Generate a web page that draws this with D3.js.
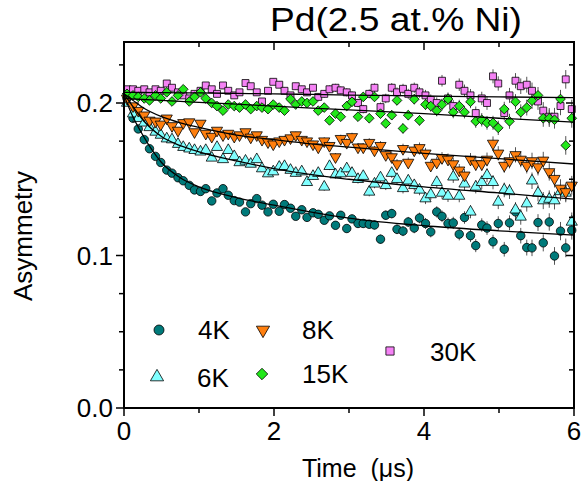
<!DOCTYPE html>
<html><head><meta charset="utf-8">
<script src="https://cdn.jsdelivr.net/npm/d3@7"></script>
<style>body{margin:0;background:#fff}svg{display:block;font-family:"Liberation Sans",Arial,sans-serif}</style>
</head><body><svg id="c" width="582" height="481"></svg>
<script>
const times = [0.04,0.12,0.19,0.27,0.34,0.42,0.49,0.57,0.64,0.72,0.79,0.87,0.94,1.02,1.09,1.17,1.24,1.32,1.39,1.47,
1.54,1.62,1.69,1.77,1.84,1.92,1.99,2.07,2.14,2.22,2.29,2.37,2.44,2.52,2.59,2.67,2.74,2.82,2.89,2.97,
3.04,3.12,3.19,3.27,3.34,3.42,3.49,3.57,3.64,3.72,3.79,3.87,3.94,4.02,4.09,4.17,4.24,4.32,4.39,4.47,
4.54,4.62,4.69,4.77,4.84,4.92,4.99,5.07,5.14,5.22,5.29,5.37,5.44,5.52,5.59,5.67,5.74,5.82,5.89,5.97];
const errs = [.0012,.0012,.0013,.0013,.0013,.0014,.0014,.0014,.0014,.0015,.0015,.0015,.0015,.0016,.0016,.0016,
.0017,.0017,.0018,.0018,.0018,.0019,.0019,.0019,.0020,.0020,.0021,.0022,.0022,.0022,.0022,.0023,
.0023,.0024,.0024,.0025,.0025,.0026,.0026,.0027,.0027,.0028,.0028,.0029,.0029,.0030,.0031,.0031,
.0032,.0033,.0033,.0034,.0035,.0036,.0036,.0037,.0038,.0039,.0040,.0041,.0041,.0042,.0043,.0044,
.0045,.0046,.0047,.0048,.0049,.0050,.0051,.0052,.0054,.0055,.0056,.0057,.0058,.0060,.0061,.0062];
const a4K = [0.203,0.190,0.183,0.176,0.170,0.165,0.161,0.156,0.154,0.151,0.149,0.146,0.143,0.142,0.1438,0.1358,
0.141,0.1438,0.1395,0.136,0.135,0.1286,0.134,0.1373,0.133,0.1286,0.1336,0.129,0.1334,0.131,0.1257,0.130,
0.125,0.128,0.127,0.1231,0.126,0.1198,0.1264,0.1177,0.124,0.121,0.121,0.1205,0.120,0.1107,0.1264,0.1275,
0.1172,0.116,0.122,0.118,0.1246,0.121,0.1155,0.1286,0.1257,0.121,0.1214,0.114,0.1249,0.113,0.1065,0.120,
0.118,0.109,0.121,0.1041,0.1214,0.1286,0.113,0.1052,0.105,0.1216,0.1083,0.122,0.0997,0.116,0.105,0.1166];
const a6K = [0.200,0.193,0.190,0.187,0.184,0.181,0.179,0.1766,0.176,0.173,0.171,0.170,0.169,0.168,0.169,0.164,
0.171,0.163,0.169,0.165,0.161,0.162,0.160,0.163,0.157,0.1537,0.155,0.158,0.1585,0.156,0.154,0.155,
0.148,0.152,0.154,0.145,0.1585,0.153,0.1537,0.157,0.154,0.150,0.152,0.1417,0.147,0.151,0.146,0.154,
0.150,0.144,0.149,0.146,0.143,0.1373,0.140,0.148,0.141,0.139,0.1516,0.139,0.147,0.1286,0.145,0.148,
0.1526,0.148,0.1351,0.143,0.142,0.130,0.1253,0.134,0.149,0.141,0.136,0.137,0.136,0.142,0.141,0.122];
const a8K = [0.203,0.198,0.195,0.192,0.1886,0.188,0.186,0.190,0.185,0.182,0.187,0.1875,0.181,0.1866,0.180,0.178,
0.182,0.179,0.180,0.178,0.179,0.181,0.1775,0.179,0.176,0.1744,0.173,0.175,0.176,0.177,0.179,0.176,
0.175,0.173,0.171,0.175,0.172,0.1646,0.1766,0.174,0.1778,0.171,0.171,0.174,0.169,0.172,0.166,0.1646,
0.160,0.170,0.161,0.169,0.1706,0.167,0.159,0.161,0.164,0.163,0.160,0.1559,0.1526,0.163,0.160,0.160,
0.163,0.1735,0.167,0.159,0.162,0.166,0.163,0.159,0.162,0.158,0.1624,0.1548,0.1504,0.144,0.1417,0.146];
const a15K = [0.206,0.205,0.204,0.203,0.2017,0.205,0.203,0.207,0.201,0.205,0.209,0.201,0.204,0.207,0.203,0.200,
0.198,0.195,0.199,0.198,0.197,0.199,0.196,0.198,0.197,0.196,0.199,0.197,0.195,0.2026,0.199,0.201,
0.200,0.201,0.195,0.197,0.1886,0.193,0.191,0.198,0.2008,0.191,0.204,0.190,0.204,0.193,0.1866,0.192,
0.2017,0.1833,0.192,0.2025,0.1886,0.199,0.198,0.195,0.199,0.2026,0.194,0.198,0.194,0.2008,0.188,0.189,
0.187,0.187,0.1837,0.196,0.188,0.2008,0.194,0.197,0.2015,0.205,0.190,0.190,0.189,0.2026,0.1722,0.190];
const a30K = [0.209,0.209,0.208,0.209,0.207,0.209,0.208,0.2128,0.210,0.207,0.205,0.203,0.206,0.208,0.2115,0.209,
0.206,0.2115,0.208,0.205,0.207,0.2131,0.211,0.207,0.201,0.208,0.2139,0.212,0.208,0.205,0.211,0.209,
0.207,0.210,0.204,0.206,0.209,0.210,0.2083,0.207,0.205,0.200,0.196,0.206,0.210,0.1973,0.203,0.210,
0.207,0.2093,0.206,0.210,0.207,0.205,0.202,0.200,0.2146,0.203,0.198,0.212,0.208,0.205,0.1934,0.203,
0.200,0.2175,0.2128,0.1934,0.205,0.2146,0.211,0.212,0.208,0.201,0.195,0.191,0.191,0.198,0.2155,0.196];

const fitT = [0,0.1,0.25,0.5,0.75,1,1.5,2,2.5,3,4,5,6];
const fit4K  = [0.205,0.193,0.179,0.161,0.151,0.145,0.138,0.133,0.1285,0.1245,0.1195,0.1162,0.1133];
const fit6K  = [0.206,0.199,0.189,0.178,0.172,0.168,0.162,0.157,0.153,0.150,0.145,0.141,0.137];
const fit8K  = [0.206,0.2025,0.197,0.191,0.187,0.184,0.179,0.176,0.1732,0.171,0.167,0.1635,0.160];
const fit15K = [0.203,0.2027,0.2023,0.2017,0.201,0.2004,0.1992,0.198,0.1967,0.1955,0.193,0.190,0.1875];
const fit30K = [0.207,0.207,0.2069,0.2068,0.2067,0.2066,0.2063,0.206,0.2056,0.2052,0.2046,0.204,0.2035];

const labels = ["4K","6K","8K","15K","30K"];
const colors = ["#007a7a","#80ffff","#ff7f0e","#22e81a","#f582f5"];
const series = [a4K,a6K,a8K,a15K,a30K];
const fits = [fit4K,fit6K,fit8K,fit15K,fit30K];
const yMajor = [0,0.1,0.2];
const xMajor = [0,2,4,6];

const svg = d3.select("#c");
const L=124,R=574,T=42,B=408;
const x = d3.scaleLinear().domain([0,6]).range([L,R]);
const y = d3.scaleLinear().domain([0,0.24]).range([B,T]);

const shapes = [
  {type:d3.symbolCircle,size:56,rot:0},
  {type:d3.symbolTriangle,size:54,rot:0},
  {type:d3.symbolTriangle,size:54,rot:180},
  {type:d3.symbolDiamond2,size:60,rot:0},
  {type:d3.symbolSquare,size:48,rot:0}
];

const order = [0,1,2,4,3];
order.forEach(si=>{
  const g = svg.append("g");
  g.selectAll("line").data(series[si].map((v,i)=>({t:times[i],v,e:errs[i]}))).join("line")
   .attr("x1",d=>x(d.t)).attr("x2",d=>x(d.t))
   .attr("y1",d=>y(d.v-d.e)).attr("y2",d=>y(d.v+d.e))
   .attr("stroke","#555").attr("stroke-width",1);
});
order.forEach(si=>{
  const sh = shapes[si];
  const sym = d3.symbol().type(sh.type).size(sh.size);
  svg.append("g").selectAll("path").data(series[si].map((v,i)=>({t:times[i],v}))).join("path")
   .attr("d",sym)
   .attr("transform",d=>`translate(${x(d.t)},${y(d.v)}) rotate(${sh.rot})`)
   .attr("fill",colors[si]).attr("stroke","#000").attr("stroke-width",0.8);
});
const line = d3.line().x(d=>x(d[0])).y(d=>y(d[1])).curve(d3.curveMonotoneX);
fits.forEach(f=>{
  svg.append("path").attr("d",line(fitT.map((t,i)=>[t,f[i]])))
   .attr("fill","none").attr("stroke","#000").attr("stroke-width",1.3);
});

const yTicks = d3.range(0,0.2401,0.025);
const xTicks = d3.range(0,6.01,1);
const isYM = v=>yMajor.some(m=>Math.abs(m-v)<1e-6);
const isXM = v=>xMajor.some(m=>Math.abs(m-v)<1e-6);
const ax = svg.append("g").attr("stroke","#000").attr("stroke-width",1.5);
yTicks.forEach(v=>{
  const len = isYM(v)?8:5;
  ax.append("line").attr("x1",L-len).attr("x2",L).attr("y1",y(v)).attr("y2",y(v));
  ax.append("line").attr("x1",R).attr("x2",R-len).attr("y1",y(v)).attr("y2",y(v));
});
xTicks.forEach(v=>{
  const len = isXM(v)?8:5;
  ax.append("line").attr("x1",x(v)).attr("x2",x(v)).attr("y1",B).attr("y2",B+len);
  ax.append("line").attr("x1",x(v)).attr("x2",x(v)).attr("y1",T).attr("y2",T+len);
});
svg.append("rect").attr("x",L).attr("y",T).attr("width",R-L).attr("height",B-T)
  .attr("fill","none").attr("stroke","#000").attr("stroke-width",2);

svg.append("g").selectAll("text").data(yMajor).join("text")
  .attr("x",L-11).attr("y",d=>y(d)).attr("dy","0.35em").attr("text-anchor","end")
  .attr("font-size",26).text(d=>d3.format(".1f")(d));
svg.append("g").selectAll("text").data(xMajor).join("text")
  .attr("x",d=>x(d)).attr("y",B+32).attr("text-anchor","middle")
  .attr("font-size",26).text(d=>d);

svg.append("text").attr("x",358).attr("y",477).attr("text-anchor","middle").attr("font-size",25)
  .text("Time\u00a0\u00a0(μs)");
svg.append("text").attr("transform","translate(32,236) rotate(-90)").attr("text-anchor","middle")
  .attr("font-size",26).text("Asymmetry");
svg.append("text").attr("x",396).attr("y",31).attr("text-anchor","middle").attr("font-size",33)
  .attr("textLength",252).attr("lengthAdjust","spacingAndGlyphs")
  .text("Pd(2.5 at.% Ni)");

const leg = [
  {si:0,mx:159,my:330,tx:198,ty:339},
  {si:2,mx:263,my:330,tx:302,ty:339},
  {si:1,mx:157,my:377,tx:197,ty:387},
  {si:3,mx:262,my:374,tx:302,ty:383},
  {si:4,mx:390,my:351,tx:430,ty:361}
];
leg.forEach(l=>{
  const sh = shapes[l.si];
  svg.append("path").attr("d",d3.symbol().type(sh.type).size(sh.size*1.4)())
    .attr("transform",`translate(${l.mx},${l.my}) rotate(${sh.rot})`)
    .attr("fill",colors[l.si]).attr("stroke","#000").attr("stroke-width",0.8);
  svg.append("text").attr("x",l.tx).attr("y",l.ty).attr("font-size",26).text(labels[l.si]);
});
</script></body></html>
